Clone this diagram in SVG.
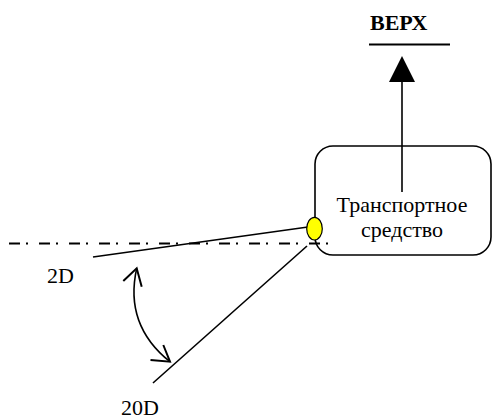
<svg xmlns="http://www.w3.org/2000/svg" width="494" height="420" viewBox="0 0 494 420">
<defs>
<style>
.t{font-family:"Liberation Serif","Times New Roman",serif;font-size:22px;fill:#000}
.b{font-weight:bold}
.ln{stroke:#000;stroke-width:1.6;fill:none}
.ah{stroke:#000;stroke-width:2;fill:none;stroke-linejoin:miter}
</style>
</defs>
<rect width="494" height="420" fill="#fff"/>
<g id="top-label">
<text class="t b" x="370" y="30" font-size="21">ВЕРХ</text>
<line x1="369" y1="44.5" x2="450" y2="44.5" stroke="#000" stroke-width="2.2"/>
</g>
<g id="vehicle">
<rect x="315" y="146" width="176" height="109" rx="18" ry="18" class="ln"/>
<text class="t" x="402" y="212" text-anchor="middle">Транспортное</text>
<text class="t" x="402" y="237" text-anchor="middle">средство</text>
</g>
<g id="connectors">
<line x1="402" y1="192" x2="402" y2="80" class="ln"/>
<polygon points="402,56 389,82 415,82" fill="#000"/>
<line x1="9" y1="243.5" x2="328" y2="243.5" stroke="#000" stroke-width="2" stroke-dasharray="11,6,2,11"/>
<line x1="93" y1="257" x2="308" y2="227" class="ln"/>
<line x1="153" y1="383" x2="307" y2="246" class="ln"/>
<path d="M136.7,268.3 Q124,325 170,361.7" class="ln"/>
<polyline points="123.3,281 136.7,268.3 141.7,286.7" class="ah"/>
<polyline points="163.3,345 170,361.7 150.5,360" class="ah"/>
</g>
<g id="sensor">
<ellipse cx="314.5" cy="228.7" rx="7.8" ry="11.3" fill="#ffff00" stroke="#000" stroke-width="1.2"/>
</g>
<g id="labels">
<text class="t" x="47" y="283">2D</text>
<text class="t" x="121" y="415">20D</text>
</g>
</svg>
